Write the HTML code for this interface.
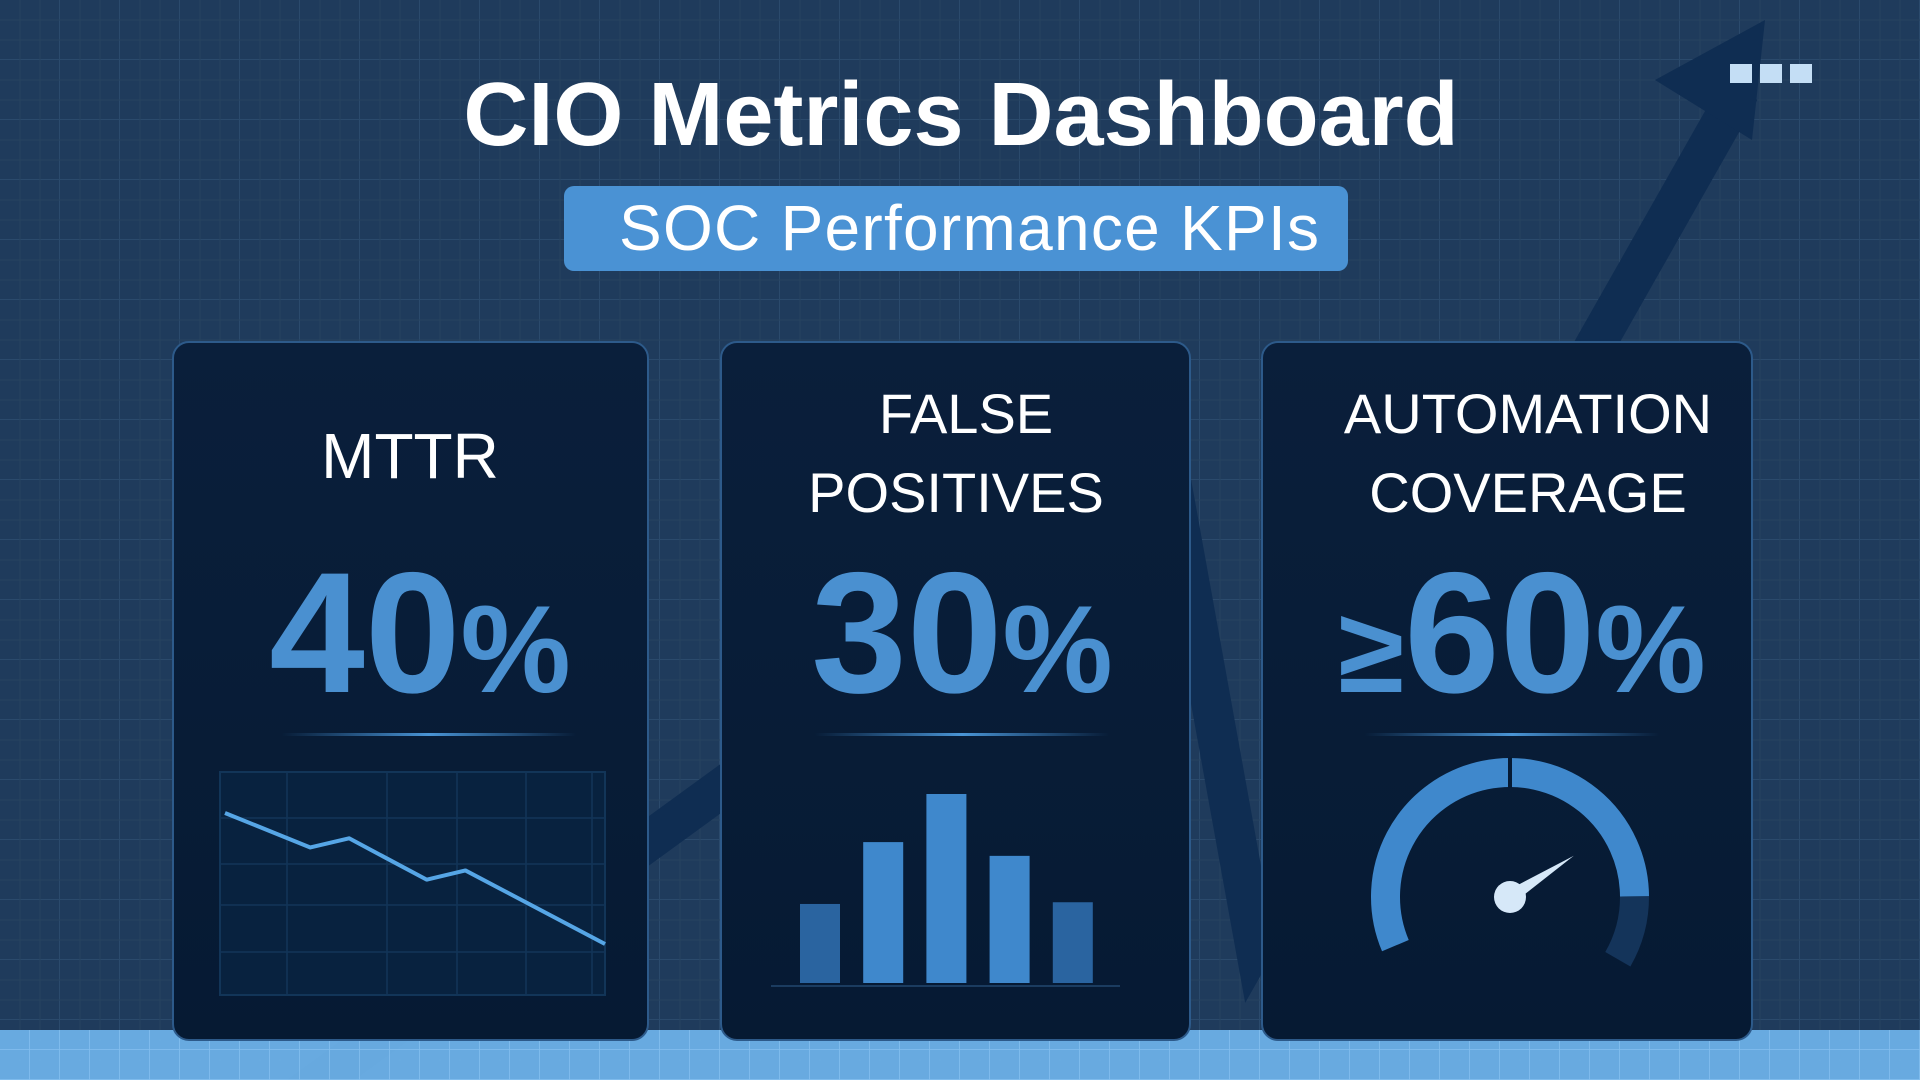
<!DOCTYPE html>
<html><head><meta charset="utf-8">
<style>
html,body{margin:0;padding:0;width:1920px;height:1080px;overflow:hidden;background:#1f3b5c;font-family:"Liberation Sans",sans-serif}
svg{position:absolute;left:0;top:0}
</style></head>
<body>
<svg id="s" width="1920" height="1080" viewBox="0 0 1920 1080">
<defs>
<pattern id="grid" width="60" height="60" patternUnits="userSpaceOnUse">
<path d="M60 0V60M0 60H60" stroke="#2b4a6c" stroke-width="2" fill="none"/>
<path d="M20 0V60M40 0V60M0 20H60M0 40H60" stroke="#27435f" stroke-width="1" fill="none"/>
</pattern>
<pattern id="grid2" width="30" height="30" patternUnits="userSpaceOnUse">
<path d="M30 0V30M0 30H30" stroke="#86c0ef" stroke-width="1.5" fill="none"/>
</pattern>
<linearGradient id="card" x1="0" y1="0" x2="0" y2="1"><stop offset="0" stop-color="#0a1f3b"/><stop offset="1" stop-color="#061a33"/></linearGradient>
<linearGradient id="sep" x1="0" x2="1"><stop offset="0" stop-color="#3d86c8" stop-opacity="0"/><stop offset=".5" stop-color="#4a95d6"/><stop offset="1" stop-color="#3d86c8" stop-opacity="0"/></linearGradient>
</defs>
<rect width="1920" height="1080" fill="url(#grid)"/>
<polyline points="300,1095 760,760 1160,420 1255,945 1740,90" fill="none" stroke="#0f2d52" stroke-width="40" stroke-linejoin="miter"/>
<rect y="1030" width="1920" height="50" fill="#6fb4ec" opacity="0.92"/>
<rect y="1030" width="1920" height="50" fill="url(#grid2)"/>
<polygon points="1655,80 1765,20 1752,140" fill="#0f2d52"/>
<g>
<rect x="1730" y="64" width="22" height="19" fill="#c4def5"/><rect x="1760" y="64" width="22" height="19" fill="#c4def5"/><rect x="1790" y="64" width="22" height="19" fill="#c4def5"/>
</g>
<text x="961" y="145" text-anchor="middle" font-size="90" font-weight="bold" fill="#fff">CIO Metrics Dashboard</text>
<rect x="564" y="186" width="784" height="85" rx="10" fill="#4a92d4"/>
<text x="969" y="250" text-anchor="middle" font-size="64" textLength="700" fill="#fff">SOC Performance KPIs</text>

<g>
<rect x="173" y="342" width="475" height="698" rx="16" fill="url(#card)" stroke="#2d5a8a" stroke-width="2"/>
<text x="410" y="478" text-anchor="middle" font-size="64" fill="#fff">MTTR</text>
<text x="420" y="692" text-anchor="middle" fill="#4a90d0" font-weight="bold"><tspan font-size="172">40</tspan><tspan font-size="124">%</tspan></text>
<rect x="282" y="733" width="294" height="3" fill="url(#sep)"/>
</g>
<g>
<rect x="721" y="342" width="469" height="698" rx="16" fill="url(#card)" stroke="#2d5a8a" stroke-width="2"/>
<text x="966" y="433" text-anchor="middle" font-size="56" fill="#fff">FALSE</text>
<text x="956" y="512" text-anchor="middle" font-size="56" fill="#fff">POSITIVES</text>
<text x="962" y="692" text-anchor="middle" fill="#4a90d0" font-weight="bold"><tspan font-size="172">30</tspan><tspan font-size="124">%</tspan></text>
<rect x="815" y="733" width="294" height="3" fill="url(#sep)"/>
</g>
<g>
<rect x="1262" y="342" width="490" height="698" rx="16" fill="url(#card)" stroke="#2d5a8a" stroke-width="2"/>
<text x="1528" y="433" text-anchor="middle" font-size="56" fill="#fff">AUTOMATION</text>
<text x="1528" y="512" text-anchor="middle" font-size="56" fill="#fff">COVERAGE</text>
<text x="1522" y="692" text-anchor="middle" fill="#4a90d0" font-weight="bold"><tspan font-size="120">≥</tspan><tspan font-size="172">60</tspan><tspan font-size="124">%</tspan></text>
<rect x="1365" y="733" width="294" height="3" fill="url(#sep)"/>
</g>
<g id="line-chart"></g>
<g id="bar-chart"></g>
<g id="gauge"></g>
</svg>
<script>
const mttrDays = [0, 11, 16, 26, 31, 49];
const mttrValues = [100, 85, 89, 71, 75, 43];
const fpCategories = ['A', 'B', 'C', 'D', 'E'];
const fpValues = [46, 82, 110, 74, 47];
const gaugeMax = 100;
const gaugeValue = 87;
const gaugeNeedle = 73;

const NS = 'http://www.w3.org/2000/svg';
function mk(tag, parent, attrs){const e=document.createElementNS(NS,tag);for(const k in attrs)e.setAttribute(k,attrs[k]);parent.appendChild(e);return e;}

(function(){
  const g=document.getElementById('line-chart');
  const x0=220,x1=605,y0=772,y1=995;
  mk('rect',g,{x:x0,y:y0,width:x1-x0,height:y1-y0,fill:'#08223f',stroke:'#123558','stroke-width':2});
  [287,387,457,526,592].forEach(x=>mk('line',g,{x1:x,x2:x,y1:y0,y2:y1,stroke:'#123558','stroke-width':1.5}));
  [818,864,905,952].forEach(y=>mk('line',g,{x1:x0,x2:x1,y1:y,y2:y,stroke:'#123558','stroke-width':1.5}));
  const xs=v=>225+v/49*(605-225);
  const ys=v=>944+(v-43)/(100-43)*(813-944);
  const pts=mttrDays.map((d,i)=>xs(d)+','+ys(mttrValues[i])).join(' ');
  const pl=mk('polyline',g,{points:pts,fill:'none',stroke:'#56a6e6','stroke-width':4,'stroke-linejoin':'round'});
  
  
})();

(function(){
  const g=document.getElementById('bar-chart');
  const base=983, scale=(983-794)/110, bw=40;
  mk('line',g,{x1:771,x2:1120,y1:986,y2:986,stroke:'#1b3c60','stroke-width':2});
  fpCategories.forEach((c,i)=>{
    const h=fpValues[i]*scale;
    const r=mk('rect',g,{x:800+i*63.2,y:base-h,width:bw,height:h,fill:(i==0||i==4)?'#2a64a0':'#3f88cc'});
    
    
  });
})();

(function(){
  const g=document.getElementById('gauge');
  const cx=1510,cy=897,r=124.5,w=29;
  const a0=203,a1=-30;
  const ang=v=>(a0+(a1-a0)*v/gaugeMax)*Math.PI/180;
  const pt=a=>[cx+r*Math.cos(a),cy-r*Math.sin(a)];
  function arc(va,vb,col,name){
    const p=pt(ang(va)),q=pt(ang(vb));
    const large=Math.abs((a1-a0)*(vb-va)/gaugeMax)>180?1:0;
    const e=mk('path',g,{d:`M${p[0]},${p[1]} A${r},${r} 0 ${large} 1 ${q[0]},${q[1]}`,fill:'none',stroke:col,'stroke-width':w});
    
    
  }
  arc(0,gaugeValue,'#3f88cc','gauge-fill');
  arc(gaugeValue,gaugeMax,'#14345a','gauge-remaining');
  const top=(a0-90)/(a0-a1)*gaugeMax;
  const tp=pt(ang(top));
  mk('line',g,{x1:tp[0],y1:tp[1]-w/2-1,x2:tp[0],y2:tp[1]+w/2+1,stroke:'#061a33','stroke-width':4});
  const na=ang(gaugeNeedle), L=76;
  const tx=cx+L*Math.cos(na), ty=cy-L*Math.sin(na);
  const px=Math.sin(na)*7, py=Math.cos(na)*7;
  const nd=mk('polygon',g,{points:`${cx+px},${cy+py} ${tx},${ty} ${cx-px},${cy-py}`,fill:'#d6e8f8'});
  
  
  mk('circle',g,{cx:cx,cy:cy,r:16,fill:'#d6e8f8'});
})();
</script>
</body></html>
